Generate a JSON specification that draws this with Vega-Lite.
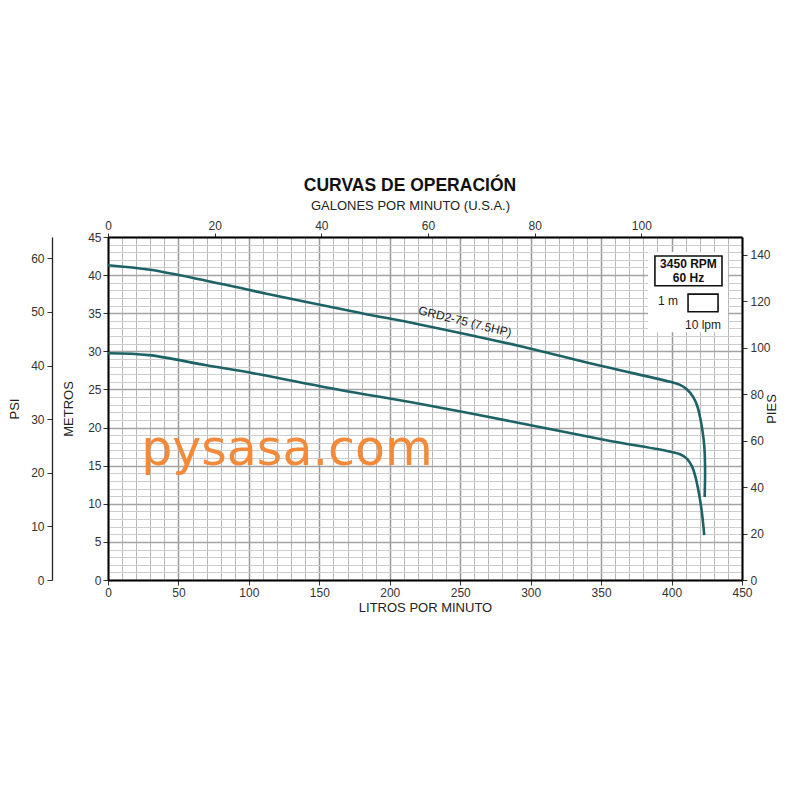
{
  "$schema": "https://vega.github.io/schema/vega-lite/v6.json",
  "width": 634,
  "height": 343,
  "autosize": {"type": "none"},
  "padding": {"left": 108, "top": 237, "right": 58, "bottom": 220},
  "background": "white",
  "title": {"text": "CURVAS DE OPERACIÓN", "font": "Liberation Sans", "fontSize": 17.5, "fontWeight": "bold", "color": "#111", "dx": -15, "offset": 5},
  "config": {
    "view": {"stroke": null},
    "axis": {"labelFont": "Liberation Sans", "titleFont": "Liberation Sans", "labelFontSize": 12, "titleFontSize": 13, "labelColor": "#333", "titleColor": "#222", "titleFontWeight": "normal", "domainColor": "#000", "tickColor": "#333"}
  },
  "datasets": {
    "curves": [
      {"curve": "GRD2-75 (7.5HP)", "i": 1, "lpm": 0, "m": 41.3},
      {"curve": "GRD2-75 (7.5HP)", "i": 2, "lpm": 30, "m": 40.7},
      {"curve": "GRD2-75 (7.5HP)", "i": 3, "lpm": 69, "m": 39.3},
      {"curve": "GRD2-75 (7.5HP)", "i": 4, "lpm": 104, "m": 37.9},
      {"curve": "GRD2-75 (7.5HP)", "i": 5, "lpm": 140, "m": 36.5},
      {"curve": "GRD2-75 (7.5HP)", "i": 6, "lpm": 180, "m": 35.0},
      {"curve": "GRD2-75 (7.5HP)", "i": 7, "lpm": 222, "m": 33.5},
      {"curve": "GRD2-75 (7.5HP)", "i": 8, "lpm": 292, "m": 30.7},
      {"curve": "GRD2-75 (7.5HP)", "i": 9, "lpm": 352, "m": 28.0},
      {"curve": "GRD2-75 (7.5HP)", "i": 10, "lpm": 399, "m": 26.0},
      {"curve": "GRD2-75 (7.5HP)", "i": 11, "lpm": 406, "m": 25.6},
      {"curve": "GRD2-75 (7.5HP)", "i": 12, "lpm": 411, "m": 25.0},
      {"curve": "GRD2-75 (7.5HP)", "i": 13, "lpm": 415.4, "m": 24.0},
      {"curve": "GRD2-75 (7.5HP)", "i": 14, "lpm": 418.3, "m": 22.8},
      {"curve": "GRD2-75 (7.5HP)", "i": 15, "lpm": 420.3, "m": 21.3},
      {"curve": "GRD2-75 (7.5HP)", "i": 16, "lpm": 422.1, "m": 19.4},
      {"curve": "GRD2-75 (7.5HP)", "i": 17, "lpm": 423.3, "m": 17.4},
      {"curve": "GRD2-75 (7.5HP)", "i": 18, "lpm": 423.8, "m": 14.5},
      {"curve": "GRD2-75 (7.5HP)", "i": 19, "lpm": 423.5, "m": 10.9},
      {"curve": "inferior", "i": 1, "lpm": 0, "m": 29.75},
      {"curve": "inferior", "i": 2, "lpm": 29, "m": 29.5},
      {"curve": "inferior", "i": 3, "lpm": 69, "m": 28.2},
      {"curve": "inferior", "i": 4, "lpm": 104, "m": 27.1},
      {"curve": "inferior", "i": 5, "lpm": 163, "m": 25.0},
      {"curve": "inferior", "i": 6, "lpm": 222, "m": 23.1},
      {"curve": "inferior", "i": 7, "lpm": 292, "m": 20.6},
      {"curve": "inferior", "i": 8, "lpm": 352, "m": 18.4},
      {"curve": "inferior", "i": 9, "lpm": 400, "m": 16.8},
      {"curve": "inferior", "i": 10, "lpm": 406, "m": 16.5},
      {"curve": "inferior", "i": 11, "lpm": 411, "m": 15.9},
      {"curve": "inferior", "i": 12, "lpm": 414.5, "m": 14.9},
      {"curve": "inferior", "i": 13, "lpm": 417, "m": 13.5},
      {"curve": "inferior", "i": 14, "lpm": 419, "m": 11.8},
      {"curve": "inferior", "i": 15, "lpm": 421.3, "m": 9.2},
      {"curve": "inferior", "i": 16, "lpm": 423.2, "m": 5.9}
    ]
  },
  "layer": [
    {
      "data": {"name": "curves"},
      "mark": {"type": "line", "interpolate": "catmull-rom", "stroke": "#1d6266", "strokeWidth": 2.6},
      "encoding": {
        "x": {"field": "lpm", "type": "quantitative", "scale": {"domain": [0, 450], "nice": false, "zero": false},
          "axis": {"orient": "bottom", "title": "LITROS POR MINUTO", "titlePadding": 3,
            "values": [0,10,20,30,40,50,60,70,80,90,100,110,120,130,140,150,160,170,180,190,200,210,220,230,240,250,260,270,280,290,300,310,320,330,340,350,360,370,380,390,400,410,420,430,440,450],
            "labelExpr": "datum.value % 50 === 0 ? datum.label : ''",
            "grid": true,
            "gridColor": {"condition": {"test": "datum.value % 50 === 0", "value": "#999999"}, "value": "#b8b8b8"},
            "gridWidth": {"condition": {"test": "datum.value % 50 === 0", "value": 1.5}, "value": 1},
            "tickSize": 5,
            "tickOpacity": {"condition": {"test": "datum.value % 50 === 0", "value": 1}, "value": 0},
            "labelPadding": 2, "domainWidth": 2, "labelFlush": false, "labelOverlap": false}},
        "y": {"field": "m", "type": "quantitative", "scale": {"domain": [0, 45], "nice": false, "zero": false},
          "axis": {"orient": "left", "title": "METROS", "titlePadding": 12,
            "values": [0,1,2,3,4,5,6,7,8,9,10,11,12,13,14,15,16,17,18,19,20,21,22,23,24,25,26,27,28,29,30,31,32,33,34,35,36,37,38,39,40,41,42,43,44,45],
            "labelExpr": "datum.value % 5 === 0 ? datum.label : ''",
            "grid": true,
            "gridColor": {"condition": {"test": "datum.value % 5 === 0", "value": "#a3a3a3"}, "value": "#cdcdcd"},
            "gridWidth": {"condition": {"test": "datum.value % 5 === 0", "value": 1.6}, "value": 1},
            "tickSize": 5,
            "tickOpacity": {"condition": {"test": "datum.value % 5 === 0", "value": 1}, "value": 0},
            "labelPadding": 2, "domainWidth": 2, "labelFlush": false, "labelOverlap": false}},
        "detail": {"field": "curve"},
        "order": {"field": "i"}
      }
    },
    {
      "data": {"values": [{"label": "GRD2-75 (7.5HP)", "lpm": 253.4, "m": 33.9}]},
      "mark": {"type": "text", "font": "Liberation Sans", "fontSize": 12, "color": "#222", "angle": 14, "align": "center", "baseline": "middle"},
      "encoding": {"x": {"field": "lpm", "type": "quantitative", "scale": {"domain": [0, 450], "nice": false, "zero": false}, "axis": null}, "y": {"field": "m", "type": "quantitative", "scale": {"domain": [0, 45], "nice": false, "zero": false}, "axis": null}, "text": {"field": "label"}}
    },
    {
      "data": {"values": [{"label": "pysasa.com", "lpm": 127.0, "m": 15.1}]},
      "mark": {"type": "text", "font": "DejaVu Sans", "fontSize": 49, "color": "#f28a3a", "align": "center", "baseline": "alphabetic"},
      "encoding": {"x": {"field": "lpm", "type": "quantitative", "scale": {"domain": [0, 450], "nice": false, "zero": false}, "axis": null}, "y": {"field": "m", "type": "quantitative", "scale": {"domain": [0, 45], "nice": false, "zero": false}, "axis": null}, "text": {"field": "label"}}
    },
    {
      "data": {"values": [{"lpm": 383.3, "lpm2": 440.0, "m": 43.0, "m2": 32.5}]},
      "mark": {"type": "rect", "fill": "white", "stroke": null},
      "encoding": {"x": {"field": "lpm", "type": "quantitative", "scale": {"domain": [0, 450], "nice": false, "zero": false}, "axis": null}, "x2": {"field": "lpm2"}, "y": {"field": "m", "type": "quantitative", "scale": {"domain": [0, 45], "nice": false, "zero": false}, "axis": null}, "y2": {"field": "m2"}}
    },
    {
      "data": {"values": [{"box": "rpm", "lpm": 388.2, "lpm2": 435.8, "m": 42.5, "m2": 38.6}, {"box": "escala", "lpm": 411.7, "lpm2": 433.0, "m": 37.5, "m2": 35.2}]},
      "mark": {"type": "rect", "fill": "white", "stroke": "#111", "strokeWidth": 1.6},
      "encoding": {"x": {"field": "lpm", "type": "quantitative", "scale": {"domain": [0, 450], "nice": false, "zero": false}, "axis": null}, "x2": {"field": "lpm2"}, "y": {"field": "m", "type": "quantitative", "scale": {"domain": [0, 45], "nice": false, "zero": false}, "axis": null}, "y2": {"field": "m2"}}
    },
    {
      "data": {"values": [{"label": "3450 RPM", "lpm": 412.0, "m": 41.5}, {"label": "60 Hz", "lpm": 412.0, "m": 39.6}]},
      "mark": {"type": "text", "font": "Liberation Sans", "fontSize": 12, "fontWeight": "bold", "color": "#111", "align": "center", "baseline": "middle"},
      "encoding": {"x": {"field": "lpm", "type": "quantitative", "scale": {"domain": [0, 450], "nice": false, "zero": false}, "axis": null}, "y": {"field": "m", "type": "quantitative", "scale": {"domain": [0, 45], "nice": false, "zero": false}, "axis": null}, "text": {"field": "label"}}
    },
    {
      "data": {"values": [{"label": "1 m", "lpm": 397.5, "m": 36.6}, {"label": "10 lpm", "lpm": 422.3, "m": 33.5}]},
      "mark": {"type": "text", "font": "Liberation Sans", "fontSize": 12, "color": "#222", "align": "center", "baseline": "middle"},
      "encoding": {"x": {"field": "lpm", "type": "quantitative", "scale": {"domain": [0, 450], "nice": false, "zero": false}, "axis": null}, "y": {"field": "m", "type": "quantitative", "scale": {"domain": [0, 45], "nice": false, "zero": false}, "axis": null}, "text": {"field": "label"}}
    },
    {
      "data": {"values": [{"psi": 0}, {"psi": 60}]},
      "mark": {"type": "point", "opacity": 0},
      "encoding": {
        "y": {"field": "psi", "type": "quantitative", "scale": {"domain": [0, 63.986], "nice": false, "zero": false},
          "axis": {"orient": "left", "offset": 56, "title": "PSI", "titlePadding": 9, "values": [0, 10, 20, 30, 40, 50, 60], "tickSize": 5, "labelPadding": 3, "grid": false, "domainWidth": 1.3, "domainColor": "#222", "labelFlush": false}}
      }
    },
    {
      "data": {"values": [{"pies": 0}, {"pies": 140}]},
      "mark": {"type": "point", "opacity": 0},
      "encoding": {
        "y": {"field": "pies", "type": "quantitative", "scale": {"domain": [0, 147.64], "nice": false, "zero": false},
          "axis": {"orient": "right", "title": "PIES", "titleAngle": 270, "titlePadding": 8, "values": [0, 20, 40, 60, 80, 100, 120, 140], "tickSize": 5, "labelPadding": 3, "grid": false, "domainWidth": 2, "labelFlush": false}}
      }
    },
    {
      "data": {"values": [{"gpm": 0}, {"gpm": 100}]},
      "mark": {"type": "point", "opacity": 0},
      "encoding": {
        "x": {"field": "gpm", "type": "quantitative", "scale": {"domain": [0, 118.88], "nice": false, "zero": false},
          "axis": {"orient": "top", "title": "GALONES POR MINUTO (U.S.A.)", "titleX": 302, "titlePadding": 7, "values": [0, 20, 40, 60, 80, 100], "tickSize": 4, "labelPadding": 1, "grid": false, "domainWidth": 2, "labelFlush": false}}
      }
    }
  ],
  "resolve": {"scale": {"x": "independent", "y": "independent"}}
}
